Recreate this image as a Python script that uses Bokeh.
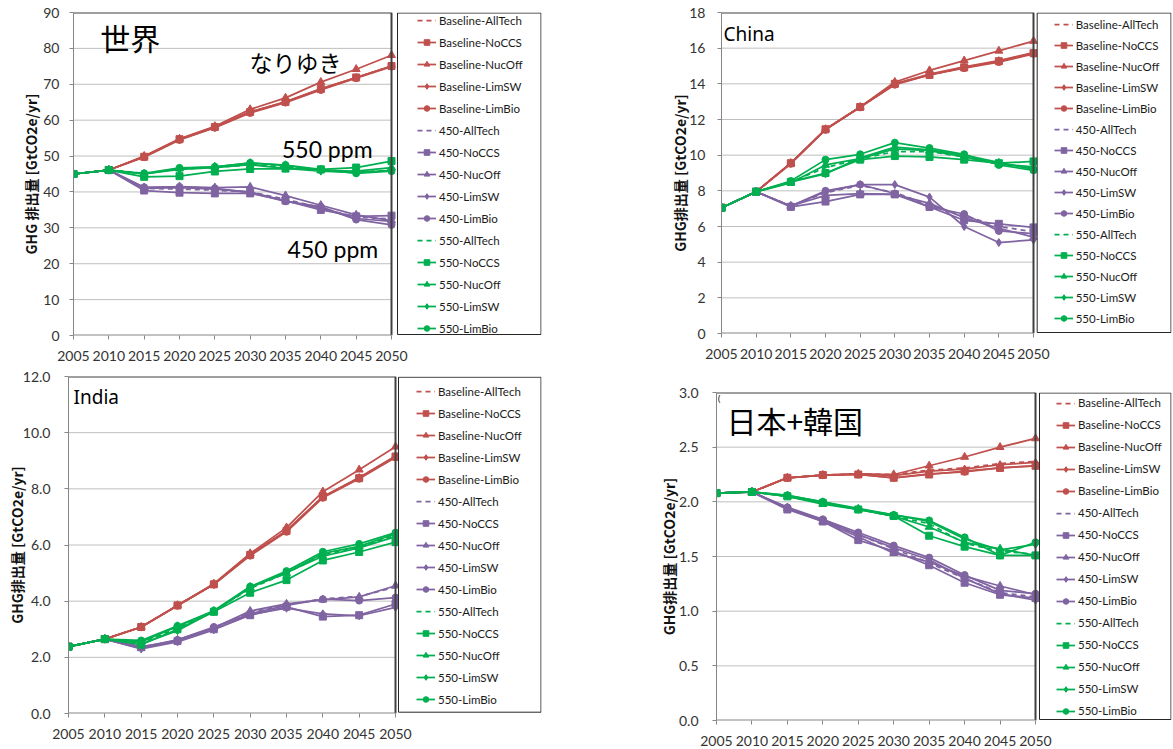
from bokeh.plotting import figure
from bokeh.models import Range1d, FixedTicker, NumeralTickFormatter, Label, Legend, LegendItem, BoxAnnotation
from bokeh.layouts import row, column
from bokeh.embed import file_html
from bokeh.resources import INLINE

# ---------------- data ----------------
YEARS = [2005, 2010, 2015, 2020, 2025, 2030, 2035, 2040, 2045, 2050]
VARIANTS = ["AllTech", "NoCCS", "NucOff", "LimSW", "LimBio"]
SCENARIOS = ["Baseline", "450", "550"]

# World
w_base_alltech = [45.0, 46.1, 49.8, 54.6, 58.0, 62.2, 65.0, 68.6, 71.8, 75.0]
w_base_noccs   = [45.0, 46.1, 49.8, 54.7, 58.1, 62.3, 65.1, 68.7, 71.9, 75.1]
w_base_nucoff  = [45.0, 46.1, 50.0, 54.8, 58.3, 63.0, 66.2, 70.6, 74.2, 78.1]
w_base_limsw   = [45.0, 46.1, 49.8, 54.6, 58.0, 62.3, 65.1, 68.7, 71.9, 75.1]
w_base_limbio  = [45.0, 46.1, 49.7, 54.5, 57.9, 62.0, 64.9, 68.4, 71.7, 74.9]
w_450_alltech  = [45.0, 46.1, 41.0, 40.8, 40.5, 40.0, 38.0, 35.5, 33.0, 32.5]
w_450_noccs    = [45.0, 46.1, 40.4, 39.8, 39.6, 39.6, 37.6, 35.0, 33.2, 33.4]
w_450_nucoff   = [45.0, 46.1, 41.2, 41.5, 41.2, 41.4, 39.0, 36.3, 33.6, 32.0]
w_450_limsw    = [45.0, 46.1, 41.0, 41.2, 40.8, 40.0, 37.5, 35.5, 32.6, 31.8]
w_450_limbio   = [45.0, 46.1, 41.3, 41.4, 41.0, 39.8, 37.4, 35.9, 32.3, 30.8]
w_550_alltech  = [45.0, 46.1, 45.2, 46.4, 46.8, 47.6, 47.0, 46.2, 45.6, 46.0]
w_550_noccs    = [45.0, 46.1, 44.2, 44.4, 45.7, 46.4, 46.5, 46.3, 46.8, 48.6]
w_550_nucoff   = [45.0, 46.1, 45.0, 46.5, 47.0, 48.0, 47.4, 46.0, 45.8, 46.8]
w_550_limsw    = [45.0, 46.1, 45.0, 46.3, 46.8, 47.6, 46.6, 45.8, 45.4, 46.0]
w_550_limbio   = [45.0, 46.1, 45.2, 46.7, 47.0, 48.1, 47.5, 46.3, 45.2, 45.8]

# China
c_base_alltech = [7.05, 7.95, 9.55, 11.45, 12.7, 14.0, 14.5, 14.9, 15.25, 15.7]
c_base_noccs   = [7.05, 7.95, 9.55, 11.45, 12.7, 14.0, 14.5, 14.92, 15.27, 15.72]
c_base_nucoff  = [7.05, 7.95, 9.55, 11.45, 12.7, 14.1, 14.75, 15.3, 15.85, 16.4]
c_base_limsw   = [7.05, 7.95, 9.55, 11.45, 12.7, 14.0, 14.55, 14.95, 15.3, 15.75]
c_base_limbio  = [7.05, 7.95, 9.52, 11.42, 12.68, 13.95, 14.5, 14.88, 15.22, 15.68]
c_450_alltech  = [7.05, 7.95, 7.15, 7.9, 8.3, 7.9, 7.2, 6.6, 6.0, 5.7]
c_450_noccs    = [7.05, 7.95, 7.1, 7.4, 7.8, 7.8, 7.1, 6.35, 6.15, 5.95]
c_450_nucoff   = [7.05, 7.95, 7.15, 7.75, 7.85, 7.8, 7.3, 6.5, 5.9, 5.4]
c_450_limsw    = [7.05, 7.95, 7.15, 7.95, 8.35, 8.35, 7.65, 6.0, 5.1, 5.25]
c_450_limbio   = [7.05, 7.95, 7.15, 8.0, 8.35, 7.85, 7.1, 6.7, 5.75, 5.6]
c_550_alltech  = [7.05, 7.95, 8.5, 9.3, 9.8, 10.2, 10.2, 9.9, 9.5, 9.3]
c_550_noccs    = [7.05, 7.95, 8.5, 9.0, 9.75, 9.95, 9.9, 9.75, 9.55, 9.65]
c_550_nucoff   = [7.05, 7.95, 8.45, 9.45, 9.8, 10.35, 10.25, 9.9, 9.5, 9.35]
c_550_limsw    = [7.05, 7.95, 8.5, 8.95, 9.85, 10.45, 10.3, 10.0, 9.6, 9.2]
c_550_limbio   = [7.05, 7.95, 8.55, 9.75, 10.05, 10.7, 10.4, 10.05, 9.45, 9.15]

# India
i_base_alltech = [2.38, 2.65, 3.08, 3.85, 4.6, 5.65, 6.5, 7.7, 8.4, 9.15]
i_base_noccs   = [2.38, 2.65, 3.08, 3.85, 4.6, 5.65, 6.5, 7.72, 8.38, 9.15]
i_base_nucoff  = [2.38, 2.65, 3.08, 3.85, 4.62, 5.7, 6.62, 7.9, 8.68, 9.5]
i_base_limsw   = [2.38, 2.65, 3.08, 3.85, 4.6, 5.66, 6.52, 7.72, 8.4, 9.17]
i_base_limbio  = [2.38, 2.65, 3.07, 3.84, 4.59, 5.62, 6.47, 7.68, 8.36, 9.12]
i_450_alltech  = [2.38, 2.65, 2.35, 2.6, 3.05, 3.6, 3.88, 4.08, 4.17, 4.5]
i_450_noccs    = [2.38, 2.65, 2.38, 2.58, 3.0, 3.5, 3.8, 3.45, 3.5, 3.9]
i_450_nucoff   = [2.38, 2.65, 2.32, 2.62, 3.05, 3.65, 3.9, 4.05, 4.15, 4.55]
i_450_limsw    = [2.38, 2.65, 2.3, 2.55, 2.98, 3.52, 3.75, 3.55, 3.48, 3.78]
i_450_limbio   = [2.38, 2.65, 2.36, 2.62, 3.08, 3.55, 3.85, 4.07, 4.02, 4.13]
i_550_alltech  = [2.38, 2.65, 2.5, 3.05, 3.64, 4.45, 5.0, 5.65, 5.92, 6.35]
i_550_noccs    = [2.38, 2.65, 2.45, 3.0, 3.62, 4.3, 4.75, 5.45, 5.75, 6.1]
i_550_nucoff   = [2.38, 2.65, 2.55, 3.1, 3.65, 4.5, 5.0, 5.7, 5.95, 6.4]
i_550_limsw    = [2.38, 2.65, 2.48, 2.95, 3.64, 4.48, 5.02, 5.6, 5.9, 6.3]
i_550_limbio   = [2.38, 2.65, 2.6, 3.12, 3.66, 4.52, 5.07, 5.76, 6.04, 6.44]

# Japan + Korea
j_base_alltech = [2.08, 2.09, 2.22, 2.245, 2.255, 2.25, 2.29, 2.31, 2.35, 2.37]
j_base_noccs   = [2.08, 2.09, 2.22, 2.245, 2.25, 2.22, 2.25, 2.28, 2.31, 2.33]
j_base_nucoff  = [2.08, 2.09, 2.22, 2.245, 2.255, 2.25, 2.33, 2.41, 2.5, 2.58]
j_base_limsw   = [2.08, 2.09, 2.22, 2.245, 2.255, 2.24, 2.28, 2.3, 2.34, 2.36]
j_base_limbio  = [2.08, 2.09, 2.22, 2.245, 2.25, 2.22, 2.255, 2.275, 2.31, 2.33]
j_450_alltech  = [2.08, 2.09, 1.94, 1.83, 1.7, 1.57, 1.44, 1.3, 1.17, 1.13]
j_450_noccs    = [2.08, 2.09, 1.93, 1.82, 1.65, 1.55, 1.42, 1.26, 1.15, 1.12]
j_450_nucoff   = [2.08, 2.09, 1.94, 1.82, 1.68, 1.53, 1.45, 1.32, 1.23, 1.15]
j_450_limsw    = [2.08, 2.09, 1.95, 1.83, 1.7, 1.58, 1.47, 1.3, 1.16, 1.1]
j_450_limbio   = [2.08, 2.09, 1.95, 1.84, 1.72, 1.6, 1.49, 1.33, 1.19, 1.16]
j_550_alltech  = [2.08, 2.09, 2.05, 1.99, 1.93, 1.87, 1.8, 1.62, 1.55, 1.52]
j_550_noccs    = [2.08, 2.09, 2.05, 1.99, 1.93, 1.87, 1.69, 1.59, 1.51, 1.51]
j_550_nucoff   = [2.08, 2.09, 2.05, 1.98, 1.93, 1.87, 1.77, 1.63, 1.57, 1.51]
j_550_limsw    = [2.08, 2.09, 2.06, 2.0, 1.94, 1.88, 1.82, 1.66, 1.56, 1.61]
j_550_limbio   = [2.08, 2.09, 2.06, 2.0, 1.93, 1.88, 1.83, 1.675, 1.51, 1.63]

W_YTICKS = [0, 10, 20, 30, 40, 50, 60, 70, 80, 90]
C_YTICKS = [0, 2, 4, 6, 8, 10, 12, 14, 16, 18]
I_YTICKS = [0, 2, 4, 6, 8, 10, 12]
J_YTICKS = [0, 0.5, 1.0, 1.5, 2.0, 2.5, 3.0]

world = [w_base_alltech, w_base_noccs, w_base_nucoff, w_base_limsw, w_base_limbio,
         w_450_alltech, w_450_noccs, w_450_nucoff, w_450_limsw, w_450_limbio,
         w_550_alltech, w_550_noccs, w_550_nucoff, w_550_limsw, w_550_limbio]
china = [c_base_alltech, c_base_noccs, c_base_nucoff, c_base_limsw, c_base_limbio,
         c_450_alltech, c_450_noccs, c_450_nucoff, c_450_limsw, c_450_limbio,
         c_550_alltech, c_550_noccs, c_550_nucoff, c_550_limsw, c_550_limbio]
india = [i_base_alltech, i_base_noccs, i_base_nucoff, i_base_limsw, i_base_limbio,
         i_450_alltech, i_450_noccs, i_450_nucoff, i_450_limsw, i_450_limbio,
         i_550_alltech, i_550_noccs, i_550_nucoff, i_550_limsw, i_550_limbio]
japkor = [j_base_alltech, j_base_noccs, j_base_nucoff, j_base_limsw, j_base_limbio,
          j_450_alltech, j_450_noccs, j_450_nucoff, j_450_limsw, j_450_limbio,
          j_550_alltech, j_550_noccs, j_550_nucoff, j_550_limsw, j_550_limbio]

# ---------------- styles ----------------
COLORS = {"Baseline": "#C0504D", "450": "#8064A2", "550": "#00B050"}
MARKERS = {"NoCCS": ("square", 7), "NucOff": ("triangle", 8), "LimSW": ("diamond", 8), "LimBio": ("circle", 7)}
TICK_FONT = "Lato"
CJK = "Noto Sans CJK JP"
ITEM_H = 14
LW = 1.75


def series_styles():
    out = []
    for s in SCENARIOS:
        for v in VARIANTS:
            out.append((f"{s}-{v}", COLORS[s], v))
    return out


def panel(data, yticks, fmt, ylabel, geo, dw, ystand, lstand, leg):
    # geo: figure width/height and borders; the frame also holds the legend area,
    # the data area (2005-2050) is dw pixels wide.
    W, H, l, r, t, b = geo
    fw, fh = W - l - r, H - t - b
    x0, x1 = YEARS[0], YEARS[-1]
    ymax = yticks[-1]
    x_end = x0 + (x1 - x0) * fw / dw

    def xd(px):
        return x0 + (x1 - x0) * (px - l) / dw

    def yd(py):
        return ymax * (1 - (py - t) / fh)

    p = figure(width=W, height=H, x_range=Range1d(x0, x_end), y_range=Range1d(0, ymax),
               output_backend="svg", toolbar_location=None, frame_align=False,
               min_border_left=l, min_border_right=r, min_border_top=t, min_border_bottom=b)
    p.grid.visible = False
    p.outline_line_color = None
    p.background_fill_color = "white"
    p.border_fill_color = "white"
    p.xaxis.ticker = FixedTicker(ticks=YEARS)
    p.yaxis.ticker = FixedTicker(ticks=yticks)
    if fmt:
        p.yaxis.formatter = NumeralTickFormatter(format=fmt)
    for ax in (p.xaxis[0], p.yaxis[0]):
        ax.axis_line_color = "#868686"
        ax.major_tick_line_color = "#868686"
        ax.major_tick_out = 4
        ax.major_tick_in = 0
        ax.minor_tick_line_color = None
        ax.major_label_text_font = TICK_FONT
        ax.major_label_text_font_size = "14px"
        ax.major_label_text_color = "#333333"
    p.xaxis.axis_line_color = None
    p.xaxis.major_label_standoff = 11
    p.yaxis.major_label_standoff = ystand
    p.yaxis.axis_label = ylabel
    p.yaxis.axis_label_text_font = CJK
    p.yaxis.axis_label_text_font_style = "bold"
    p.yaxis.axis_label_text_font_size = "14px"
    p.yaxis.axis_label_text_color = "#111111"
    p.yaxis.axis_label_standoff = lstand

    # horizontal gridlines limited to the data area
    gl = list(yticks[1:-1])
    p.segment(x0=[x0] * len(gl), x1=[x1] * len(gl), y0=gl, y1=gl, line_color="#BFBFBF", line_width=1)

    items = []
    for vals, (name, color, var) in zip(data, series_styles()):
        if var == "AllTech":
            rl = p.line(YEARS, vals, line_color=color, line_width=LW, line_dash="5 4")
            items.append(LegendItem(label=name, renderers=[rl]))
        else:
            m, sz = MARKERS[var]
            rl = p.line(YEARS, vals, line_color=color, line_width=LW)
            rs = p.scatter(YEARS, vals, marker=m, size=sz, fill_color=color, line_color=color)
            items.append(LegendItem(label=name, renderers=[rl, rs]))

    # plot-area border: top and right dark, bottom grey axis line
    p.segment(x0=[x0, x1], x1=[x1, x1], y0=[ymax, 0], y1=[ymax, ymax], line_color="#404040", line_width=2)
    p.segment(x0=[x0], x1=[x1], y0=[0], y1=[0], line_color="#868686", line_width=2)

    # legend box + legend
    bl, bt, br, bb, first_c, sp, goff = leg
    p.add_layout(BoxAnnotation(left=xd(bl), right=xd(min(br, W - r - 0.5)),
                               top=yd(max(bt, t + 0.5)), bottom=yd(bb),
                               fill_color="white", fill_alpha=1,
                               line_color="#262626", line_width=1, line_alpha=1))
    items_h = 15 * ITEM_H + 14 * sp
    leg_top = first_c - ITEM_H / 2
    leg_bottom = leg_top + items_h
    lg = Legend(items=items, location=(bl + goff - l, (H - b) - leg_bottom), padding=0, margin=0,
                spacing=sp, glyph_width=19, glyph_height=ITEM_H, label_height=ITEM_H, label_standoff=3,
                border_line_color=None, background_fill_alpha=0,
                label_text_font=TICK_FONT, label_text_font_size="11.5px", label_text_color="#1a1a1a")
    p.add_layout(lg)
    return p


# geo: (width, height, min_border_left, right, top, bottom); leg: box left, top, right, bottom,
# first item centre, spacing, glyph offset (all in the figure's own pixels)
P1 = panel(world, W_YTICKS, None, "GHG 排出量 [GtCO2e/yr]", (650, 366, 73, 109, 12, 31), 318, 10, -1,
           (397, 10, 541, 334, 20, 8, 20))
P2 = panel(china, C_YTICKS, None, "GHG排出量 [GtCO2e/yr]", (523, 366, 71, 2, 12, 33), 312, 12, -4,
           (386.7, 11, 521, 332, 24, 7, 17))
P3 = panel(india, I_YTICKS, "0.0", "GHG排出量 [GtCO2e/yr]", (650, 383, 68, 109, 10, 36), 327, 14, -7,
           (398, 10.7, 541, 345.7, 25, 8, 18))
P4 = panel(japkor, J_YTICKS, "0.0", "GHG排出量 [GtCO2e/yr]", (523, 383, 66, 2, 26, 29), 319, 14, -3,
           (389, 26, 521, 353, 36.5, 8, 17))

# panel annotations
P1.add_layout(Label(x=2008.8, y=83.3, text="世界", text_font=CJK, text_font_size="30px",
                    text_baseline="middle", text_color="black"))
P1.add_layout(Label(x=2029.9, y=76.2, text="なりゆき", text_font=CJK, text_font_size="23px",
                    text_baseline="middle", text_color="black"))
P1.add_layout(Label(x=2034.5, y=52.1, text="550 ppm", text_font=TICK_FONT, text_font_size="23px",
                    text_baseline="alphabetic", text_color="black"))
P1.add_layout(Label(x=2035.3, y=24.2, text="450 ppm", text_font=TICK_FONT, text_font_size="23px",
                    text_baseline="alphabetic", text_color="black"))
P2.add_layout(Label(x=2005.3, y=16.82, text="China", text_font="Noto Sans", text_font_size="19px",
                    text_baseline="alphabetic", text_color="black"))
P3.add_layout(Label(x=2005.7, y=11.26, text="India", text_font="Noto Sans", text_font_size="19px",
                    text_baseline="alphabetic", text_color="black"))
P4.add_layout(Label(x=2005.2, y=3.0, text="(", text_font="Noto Sans", text_font_size="8px",
                    text_baseline="top", text_color="black"))
P4.add_layout(Label(x=2006.4, y=2.744, text="日本+韓国", text_font=CJK, text_font_size="30px",
                    text_baseline="middle", text_color="black"))

layout = column(row(P1, P2), row(P3, P4))
open("out.html", "w").write(file_html(layout, INLINE))
